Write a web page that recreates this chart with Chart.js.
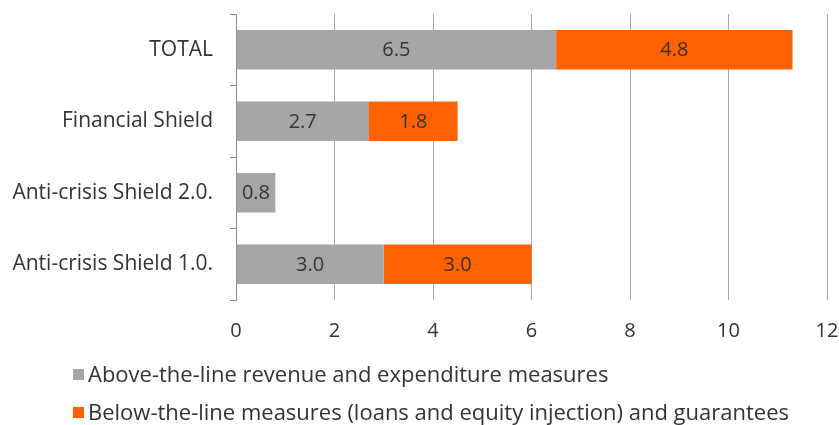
<!DOCTYPE html>
<html>
<head>
<meta charset="utf-8">
<script src="https://cdn.jsdelivr.net/npm/chart.js@4"></script>
<style>
  body { margin: 0; background: #fff; }
  #wrap { position: relative; width: 839px; height: 425px; }
  #legend { position: absolute; left: 73px; top: 359px; font-family: 'Open Sans', sans-serif; font-size: 22px; color: #333; }
  #legend .item { height: 38px; line-height: 28px; white-space: nowrap; }
  #legend .box { display: inline-block; width: 11px; height: 11px; margin-right: 4px; vertical-align: 2px; }
</style>
</head>
<body>
<div id="wrap">
  <canvas id="chart" width="839" height="425"></canvas>
  <div id="legend"></div>
</div>
<script>
const categories = ['TOTAL', 'Financial Shield', 'Anti-crisis Shield 2.0.', 'Anti-crisis Shield 1.0.'];
const aboveTheLine = [6.5, 2.7, 0.8, 3.0];
const belowTheLine = [4.8, 1.8, 0, 3.0];
const seriesNames = [
  'Above-the-line revenue and expenditure measures',
  'Below-the-line measures (loans and equity injection) and guarantees'
];
const xTicks = [0, 2, 4, 6, 8, 10, 12];

const FONT = "'Open Sans', sans-serif";
const TEXT = '#333333';

// writes each segment's value in the middle of its bar
const barValues = {
  id: 'barValues',
  afterDatasetsDraw(chart) {
    const ctx = chart.ctx;
    ctx.save();
    ctx.font = '20px ' + FONT;
    ctx.fillStyle = TEXT;
    ctx.textAlign = 'center';
    ctx.textBaseline = 'middle';
    chart.data.datasets.forEach((ds, i) => {
      chart.getDatasetMeta(i).data.forEach((bar, j) => {
        const v = ds.data[j];
        if (!v) return;
        const c = bar.getCenterPoint();
        ctx.fillText(v.toFixed(1), c.x, c.y + 1);
      });
    });
    ctx.restore();
  }
};

const chart = new Chart(document.getElementById('chart'), {
  type: 'bar',
  data: {
    labels: categories,
    datasets: [
      { label: seriesNames[0], data: aboveTheLine, backgroundColor: '#a6a6a6' },
      { label: seriesNames[1], data: belowTheLine, backgroundColor: '#ff6200' }
    ]
  },
  options: {
    indexAxis: 'y',
    responsive: false,
    animation: false,
    categoryPercentage: 1,
    barPercentage: 0.55,
    layout: { padding: { top: 14, right: 12, left: 0, bottom: 0 } },
    plugins: {
      legend: { display: false },
      tooltip: { enabled: false }
    },
    scales: {
      x: {
        stacked: true,
        min: 0,
        max: 12,
        afterBuildTicks: (axis) => { axis.ticks = xTicks.map(v => ({ value: v })); },
        afterFit: (axis) => { axis.height = 125; axis.paddingLeft = 0; axis.paddingRight = 0; },
        grid: { color: '#a8a8a8', drawTicks: false },
        border: { display: false },
        ticks: { color: TEXT, padding: 19, font: { family: FONT, size: 20 } }
      },
      y: {
        stacked: true,
        afterFit: (axis) => { axis.width = 236; axis.paddingTop = 0; axis.paddingBottom = 0; },
        grid: { offset: true, drawOnChartArea: false, tickLength: 6, color: '#8c8c8c' },
        border: { color: '#8c8c8c' },
        ticks: { color: TEXT, padding: 17, font: { family: FONT, size: 21 } }
      }
    }
  },
  plugins: [barValues]
});

// legend listed under the axis, one series per row
document.getElementById('legend').innerHTML = chart.data.datasets.map(ds =>
  '<div class="item"><span class="box" style="background:' + ds.backgroundColor + '"></span>' + ds.label + '</div>'
).join('');
</script>
</body>
</html>
